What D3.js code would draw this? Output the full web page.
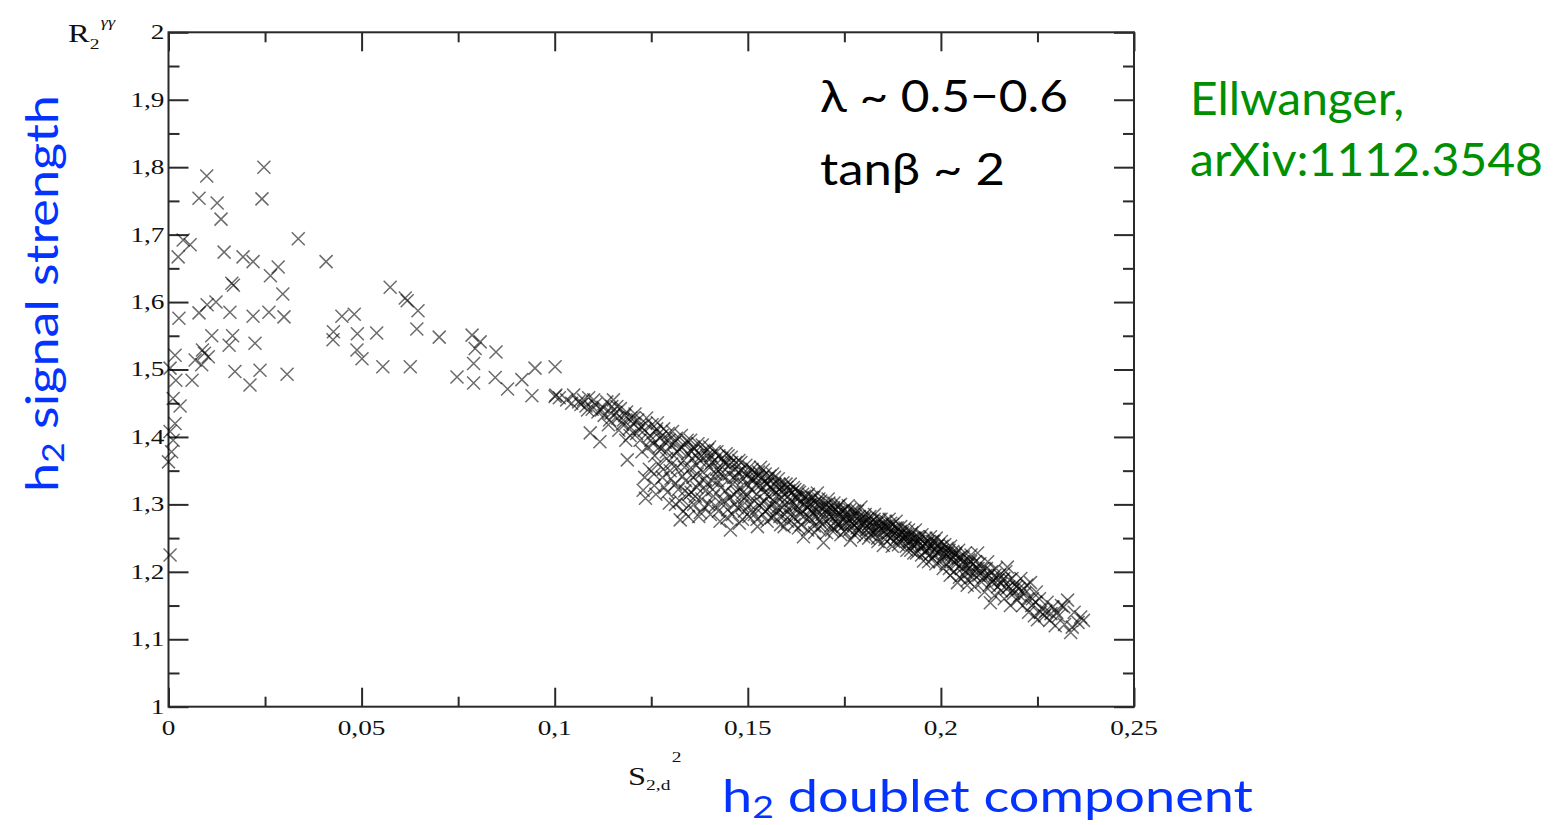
<!DOCTYPE html>
<html>
<head>
<meta charset="utf-8">
<script src="https://cdn.jsdelivr.net/npm/d3@7"></script>
<style>
  html, body { margin: 0; padding: 0; background: #fff; }
  svg { display: block; }
</style>
</head>
<body>
<svg id="chart" width="1553" height="825"></svg>
<script>
// ---------------- DATA ----------------
const xMajorTicks = [0, 0.05, 0.1, 0.15, 0.2, 0.25];
const xTickLabels = ["0", "0,05", "0,1", "0,15", "0,2", "0,25"];
const xMinorTicks = [0.025, 0.075, 0.125, 0.175, 0.225];
const yMajorTicks = [1, 1.1, 1.2, 1.3, 1.4, 1.5, 1.6, 1.7, 1.8, 1.9, 2];
const yTickLabels = ["1", "1,1", "1,2", "1,3", "1,4", "1,5", "1,6", "1,7", "1,8", "1,9", "2"];
const yMinorTicks = [1.05, 1.15, 1.25, 1.35, 1.45, 1.55, 1.65, 1.75, 1.85, 1.95];

// scattered points, small doublet component (S2,d^2 < 0.1)
const pointsScattered = [
  [0.0099,1.787],[0.0247,1.800],[0.0079,1.754],[0.0126,1.747],[0.0242,1.753],[0.0136,1.723],
  [0.0336,1.694],[0.0038,1.692],[0.0056,1.685],[0.0025,1.667],[0.0144,1.674],[0.0193,1.667],
  [0.0219,1.660],[0.0284,1.652],[0.0264,1.639],[0.0408,1.660],[0.0164,1.628],[0.0168,1.625],
  [0.0574,1.622],[0.0613,1.606],[0.0618,1.602],[0.0646,1.587],[0.0296,1.612],[0.0123,1.600],
  [0.0100,1.596],[0.0027,1.576],[0.0079,1.584],[0.0159,1.585],[0.0219,1.579],[0.0260,1.585],
  [0.0299,1.578],[0.0449,1.579],[0.0481,1.582],[0.0427,1.556],[0.0426,1.544],[0.0489,1.553],
  [0.0539,1.554],[0.0643,1.560],[0.0701,1.548],[0.0112,1.550],[0.0166,1.550],[0.0157,1.536],
  [0.0224,1.539],[0.0017,1.521],[0.0088,1.529],[0.0069,1.514],[0.0103,1.519],[0.0086,1.507],
  [0.0093,1.524],[0.0488,1.529],[0.0501,1.516],[0.0555,1.504],[0.0626,1.504],[0.0747,1.489],
  [0.0004,1.502],[0.0019,1.484],[0.0061,1.484],[0.0172,1.497],[0.0237,1.499],[0.0211,1.477],
  [0.0307,1.493],[0.0012,1.457],[0.0030,1.446],[0.0017,1.420],[0.0004,1.408],[0.0012,1.395],
  [0.0008,1.378],[0.0000,1.363],[0.0004,1.225],
  [0.0786,1.551],[0.0807,1.541],[0.0794,1.531],[0.0848,1.526],[0.0790,1.509],[0.0790,1.480],
  [0.0846,1.488],[0.0878,1.471],[0.0915,1.485],[0.0949,1.502],[0.1001,1.504],[0.0941,1.461],
  [0.1001,1.460]
];

// dense band, S2,d^2 from 0.1 to 0.237
const pointsBandA = [
  [0.1003,1.462],[0.1012,1.458],[0.1031,1.455],[0.1049,1.462],[0.1044,1.450],
  [0.1062,1.452],[0.1075,1.455],[0.1081,1.446],[0.1092,1.406],[0.1097,1.441],[0.1088,1.458],
  [0.1105,1.448],[0.1117,1.393],[0.1121,1.440],[0.1128,1.432],[0.1135,1.452],[0.1142,1.425],[0.1148,1.445],
  [0.1152,1.455],[0.1158,1.436],[0.1163,1.428],[0.1170,1.442],[0.1175,1.419],[0.1181,1.432],[0.1188,1.366],
  [0.1186,1.437],[0.1193,1.412],[0.1197,1.428],
  [0.1203,1.420],[0.1208,1.434],[0.1212,1.405],[0.1215,1.425],[0.1221,1.395],[0.1224,1.415],[0.1229,1.321],
  [0.1232,1.410],[0.1235,1.309],[0.1238,1.428],[0.1242,1.385],[0.1247,1.402],[0.1245,1.352],
  [0.1252,1.418],[0.1255,1.390],[0.1259,1.372],[0.1262,1.408],[0.1266,1.421],[0.1268,1.360],[0.1272,1.398],
  [0.1275,1.382],[0.1279,1.340],[0.1282,1.412],[0.1286,1.392],[0.1290,1.368],[0.1294,1.405],[0.1297,1.302],[0.1299,1.350],
  [0.1302,1.388],[0.1305,1.408],[0.1309,1.372],[0.1312,1.330],[0.1315,1.398],[0.1318,1.355],[0.1322,1.382],
  [0.1325,1.277],[0.1328,1.402],[0.1331,1.342],[0.1334,1.365],[0.1337,1.320],[0.1340,1.390],[0.1344,1.375],
  [0.1347,1.298],[0.1349,1.352],
  [0.1352,1.395],[0.1355,1.368],[0.1358,1.340],[0.1361,1.382],[0.1364,1.312],[0.1367,1.358],[0.1371,1.390],
  [0.1374,1.332],[0.1377,1.288],[0.1380,1.372],[0.1383,1.348],[0.1386,1.380],[0.1390,1.320],[0.1393,1.362],
  [0.1396,1.381],[0.1399,1.300],
  [0.1402,1.355],[0.1405,1.372],[0.1408,1.335],[0.1411,1.312],[0.1414,1.365],[0.1417,1.345],[0.1420,1.378],
  [0.1424,1.290],[0.1427,1.352],[0.1430,1.325],[0.1433,1.368],[0.1437,1.340],[0.1440,1.305],[0.1443,1.360],
  [0.1446,1.280],[0.1449,1.372],
  [0.1452,1.345],[0.1455,1.262],[0.1458,1.362],[0.1461,1.330],[0.1464,1.315],[0.1467,1.352],[0.1470,1.340],
  [0.1473,1.295],[0.1477,1.365],[0.1480,1.325],[0.1483,1.350],[0.1486,1.278],[0.1489,1.338],[0.1492,1.310],
  [0.1495,1.358],[0.1498,1.330]
];
const pointsBandB = [
  [0.1502,1.345],[0.1505,1.300],[0.1508,1.322],[0.1511,1.352],[0.1514,1.335],[0.1517,1.285],[0.1520,1.340],
  [0.1523,1.315],[0.1525,1.267],[0.1528,1.348],[0.1531,1.328],[0.1534,1.302],[0.1537,1.340],[0.1540,1.351],
  [0.1543,1.318],[0.1546,1.290],[0.1549,1.332],
  [0.1552,1.338],[0.1555,1.312],[0.1558,1.325],[0.1561,1.280],[0.1564,1.345],[0.1567,1.305],[0.1570,1.330],
  [0.1573,1.318],[0.1576,1.295],[0.1579,1.338],[0.1582,1.322],[0.1585,1.270],[0.1588,1.310],[0.1591,1.332],
  [0.1594,1.267],[0.1597,1.300],
  [0.1601,1.325],[0.1604,1.312],[0.1607,1.292],[0.1610,1.330],[0.1613,1.305],[0.1616,1.318],[0.1619,1.280],
  [0.1622,1.322],[0.1625,1.298],[0.1628,1.310],[0.1631,1.265],[0.1634,1.318],[0.1637,1.302],[0.1640,1.290],
  [0.1644,1.252],[0.1647,1.312],
  [0.1651,1.305],[0.1654,1.295],[0.1657,1.315],[0.1660,1.280],[0.1663,1.300],[0.1666,1.310],[0.1669,1.288],
  [0.1672,1.268],[0.1675,1.302],[0.1678,1.292],[0.1680,1.317],[0.1683,1.298],[0.1686,1.275],[0.1689,1.305],
  [0.1692,1.285],[0.1696,1.243],[0.1698,1.296],
  [0.1702,1.300],[0.1705,1.288],[0.1708,1.308],[0.1711,1.278],[0.1714,1.295],[0.1717,1.262],[0.1720,1.290],
  [0.1723,1.302],[0.1726,1.282],[0.1729,1.292],[0.1732,1.270],[0.1735,1.298],[0.1738,1.285],[0.1741,1.255],
  [0.1744,1.290],[0.1747,1.278],
  [0.1751,1.292],[0.1754,1.272],[0.1757,1.285],[0.1760,1.298],[0.1763,1.262],[0.1766,1.247],[0.1769,1.280],
  [0.1772,1.290],[0.1775,1.270],[0.1778,1.283],[0.1781,1.258],[0.1784,1.290],[0.1787,1.275],[0.1790,1.266],
  [0.1793,1.296],[0.1796,1.280]
];
const pointsBandC = [
  [0.1801,1.272],[0.1804,1.285],[0.1807,1.262],[0.1810,1.278],[0.1813,1.250],[0.1816,1.282],[0.1819,1.268],
  [0.1822,1.275],[0.1825,1.258],[0.1828,1.285],[0.1831,1.265],[0.1834,1.272],[0.1837,1.245],[0.1840,1.278],
  [0.1843,1.262],[0.1847,1.270],
  [0.1851,1.239],[0.1854,1.268],[0.1857,1.275],[0.1860,1.255],[0.1863,1.265],[0.1866,1.278],[0.1869,1.250],
  [0.1872,1.262],[0.1875,1.270],[0.1878,1.245],[0.1881,1.258],[0.1884,1.275],[0.1887,1.265],[0.1890,1.240],
  [0.1893,1.255],[0.1896,1.267],
  [0.1901,1.258],[0.1904,1.248],[0.1907,1.265],[0.1910,1.238],[0.1913,1.255],[0.1916,1.262],[0.1919,1.245],
  [0.1922,1.232],[0.1925,1.258],[0.1928,1.250],[0.1931,1.240],[0.1934,1.262],[0.1937,1.228],[0.1940,1.252],
  [0.1943,1.245],[0.1947,1.235],
  [0.1951,1.255],[0.1955,1.216],[0.1958,1.242],[0.1961,1.250],[0.1964,1.232],[0.1967,1.245],[0.1970,1.225],
  [0.1973,1.252],[0.1976,1.238],[0.1979,1.220],[0.1982,1.245],[0.1985,1.232],[0.1988,1.250],[0.1991,1.228],
  [0.1994,1.240],[0.1997,1.215],
  [0.2001,1.245],[0.2004,1.232],[0.2007,1.222],[0.2010,1.240],[0.2013,1.212],[0.2016,1.235],[0.2019,1.228],
  [0.2022,1.205],[0.2025,1.238],[0.2028,1.218],[0.2031,1.230],[0.2034,1.200],[0.2037,1.225],[0.2040,1.212],
  [0.2043,1.184],[0.2046,1.232],
  [0.2051,1.222],[0.2054,1.205],[0.2057,1.215],[0.2060,1.195],[0.2063,1.228],[0.2066,1.210],[0.2069,1.188],
  [0.2072,1.218],[0.2075,1.200],[0.2078,1.225],[0.2081,1.192],[0.2084,1.212],[0.2087,1.178],[0.2090,1.205],
  [0.2095,1.228],[0.2098,1.195],
  [0.2101,1.212],[0.2105,1.185],[0.2109,1.205],[0.2113,1.170],[0.2117,1.195],[0.2121,1.215],[0.2125,1.180],
  [0.2128,1.154],[0.2131,1.200],[0.2135,1.188],[0.2139,1.165],[0.2143,1.205],[0.2147,1.178],
  [0.2152,1.195],[0.2156,1.172],[0.2160,1.188],[0.2164,1.160],[0.2168,1.200],[0.2172,1.207],[0.2176,1.178],
  [0.2180,1.150],[0.2184,1.190],[0.2188,1.168],[0.2193,1.182],[0.2197,1.158],
  [0.2202,1.175],[0.2207,1.190],[0.2212,1.150],[0.2217,1.168],[0.2222,1.180],[0.2227,1.140],[0.2232,1.184],
  [0.2237,1.160],[0.2242,1.135],[0.2247,1.170],
  [0.2250,1.129],[0.2255,1.160],[0.2262,1.145],[0.2268,1.135],[0.2275,1.155],[0.2282,1.128],[0.2290,1.148],
  [0.2296,1.120],
  [0.2305,1.135],[0.2312,1.150],[0.2320,1.122],[0.2328,1.158],[0.2336,1.110],[0.2345,1.140],[0.2355,1.125],
  [0.2362,1.133],[0.2369,1.128]
];
const pointsBandD = [
  [0.1068,1.448],[0.1085,1.440],[0.1101,1.455],[0.1112,1.437],[0.1125,1.444],[0.1139,1.418],[0.1146,1.435],
  [0.1161,1.445],[0.1178,1.425],[0.1195,1.402],[0.1184,1.395],[0.1166,1.410],
  [0.1205,1.428],[0.1218,1.412],[0.1226,1.378],[0.1236,1.420],[0.1249,1.395],[0.1257,1.345],[0.1264,1.412],
  [0.1271,1.385],[0.1278,1.402],[0.1284,1.325],[0.1289,1.378],[0.1296,1.395],[0.1303,1.360],[0.1311,1.392],
  [0.1317,1.378],[0.1324,1.305],[0.1329,1.385],[0.1336,1.355],[0.1343,1.395],[0.1348,1.315],
  [0.1354,1.378],[0.1359,1.385],[0.1366,1.372],[0.1369,1.345],[0.1376,1.365],[0.1382,1.388],[0.1388,1.338],
  [0.1394,1.372],[0.1401,1.385],[0.1407,1.362],[0.1413,1.378],[0.1419,1.352],[0.1425,1.372],[0.1431,1.345],
  [0.1438,1.362],[0.1444,1.375],[0.1451,1.358],[0.1457,1.370],[0.1463,1.340],[0.1469,1.362],[0.1476,1.348],
  [0.1482,1.362],[0.1488,1.318],[0.1494,1.345],
  [0.1504,1.355],[0.1509,1.338],[0.1516,1.348],[0.1522,1.328],[0.1527,1.342],[0.1533,1.355],[0.1539,1.325],
  [0.1545,1.345],[0.1551,1.330],[0.1557,1.342],[0.1563,1.322],[0.1569,1.340],[0.1574,1.312],[0.1581,1.330],
  [0.1587,1.325],[0.1593,1.315],[0.1599,1.330],[0.1606,1.320],[0.1612,1.298],[0.1618,1.325],[0.1624,1.310],
  [0.1630,1.320],[0.1636,1.285],[0.1642,1.315],[0.1648,1.300],
  [0.1653,1.312],[0.1659,1.298],[0.1665,1.290],[0.1671,1.310],[0.1677,1.282],[0.1684,1.308],[0.1690,1.295],
  [0.1697,1.278],[0.1703,1.292],[0.1710,1.302],[0.1716,1.282],[0.1722,1.295],[0.1728,1.275],[0.1734,1.288],
  [0.1740,1.300],[0.1746,1.268],[0.1752,1.285],[0.1758,1.278],[0.1764,1.292],[0.1770,1.272],[0.1777,1.290],
  [0.1783,1.265],[0.1789,1.282],[0.1795,1.272],
  [0.1803,1.280],[0.1809,1.268],[0.1815,1.272],[0.1821,1.262],[0.1827,1.278],[0.1833,1.258],[0.1839,1.268],
  [0.1845,1.278],[0.1852,1.262],[0.1858,1.268],[0.1864,1.258],[0.1870,1.272],[0.1877,1.255],[0.1883,1.265],
  [0.1889,1.252],[0.1895,1.260],[0.1902,1.250],[0.1908,1.255],[0.1914,1.245],[0.1920,1.252],[0.1926,1.240],
  [0.1933,1.250],[0.1939,1.242],[0.1945,1.250],[0.1952,1.238],[0.1958,1.230],[0.1965,1.242],[0.1971,1.235],
  [0.1978,1.245],[0.1984,1.225],[0.1990,1.238],[0.1996,1.230],
  [0.2003,1.238],[0.2009,1.228],[0.2015,1.222],[0.2021,1.232],[0.2027,1.225],[0.2033,1.215],[0.2039,1.228],
  [0.2045,1.220],[0.2052,1.210],[0.2058,1.222],[0.2064,1.200],[0.2071,1.210],[0.2077,1.215],[0.2083,1.198],
  [0.2089,1.215],[0.2096,1.205],[0.2103,1.198],[0.2110,1.192],[0.2118,1.205],[0.2124,1.195],[0.2132,1.185],
  [0.2140,1.195],[0.2148,1.188],[0.2155,1.182],[0.2163,1.190],[0.2170,1.175],[0.2178,1.188],[0.2186,1.172],
  [0.2195,1.178],[0.2204,1.165],[0.2215,1.175],[0.2225,1.160],[0.2235,1.150],[0.2245,1.155],[0.2258,1.140],
  [0.2272,1.142],[0.2285,1.138],[0.2300,1.140],[0.2318,1.148],[0.2340,1.118]
];
// lower / middle part of the wide section of the band
const pointsBandE = [
  [0.1233,1.340],[0.1258,1.328],[0.1262,1.315],[0.1281,1.352],[0.1292,1.318],[0.1301,1.338],[0.1313,1.300],
  [0.1320,1.322],[0.1333,1.290],[0.1339,1.335],[0.1346,1.282],[0.1353,1.318],[0.1360,1.300],[0.1368,1.325],
  [0.1373,1.282],[0.1381,1.308],[0.1387,1.296],[0.1395,1.330],[0.1403,1.285],[0.1409,1.322],[0.1416,1.298],
  [0.1422,1.335],[0.1428,1.275],[0.1434,1.305],[0.1442,1.320],[0.1448,1.292],[0.1454,1.310],[0.1460,1.285],
  [0.1466,1.300],[0.1472,1.318],[0.1478,1.272],[0.1485,1.298],[0.1491,1.290],[0.1497,1.312],[0.1503,1.282],
  [0.1510,1.292],[0.1518,1.305],[0.1524,1.278],[0.1530,1.298],[0.1538,1.285],[0.1544,1.305],[0.1550,1.275],
  [0.1556,1.295],[0.1562,1.300],[0.1568,1.282],[0.1575,1.290],[0.1583,1.282],[0.1589,1.295],[0.1595,1.285],
  [0.1603,1.275],[0.1611,1.285],[0.1620,1.270],[0.1629,1.292],[0.1638,1.270],[0.1645,1.282],[0.1655,1.262],
  [0.1664,1.278],[0.1673,1.258],[0.1682,1.265],[0.1693,1.270],[0.1704,1.258],[0.1715,1.268],[0.1725,1.262],
  [0.1736,1.270],[0.1750,1.260],[0.1762,1.272],[0.1776,1.255],[0.1788,1.262],[0.1800,1.252],[0.1818,1.255],
  [0.1836,1.250],[0.1855,1.248],[0.1874,1.238],[0.1892,1.245],[0.1912,1.232],[0.1930,1.228],[0.1950,1.225],
  [0.1968,1.215],[0.1987,1.212],[0.2006,1.205],[0.2024,1.195],[0.2048,1.192],[0.2068,1.180]
];

const allPoints = pointsScattered.concat(pointsBandA, pointsBandB, pointsBandC, pointsBandD, pointsBandE);

// ---------------- CHART ----------------
const svg = d3.select("#chart");
const L = 168.5, R = 1134, T = 32.3, B = 706.7;
const x = d3.scaleLinear().domain([0, 0.25]).range([L, R]);
const y = d3.scaleLinear().domain([1, 2]).range([B, T]);

const axisColor = "#2a2a2a";
const serif = "'Liberation Serif', 'DejaVu Serif', serif";
const sans = "Lato, 'Open Sans', sans-serif";

function styleAxis(g) {
  g.select(".domain").remove();
  g.selectAll(".tick line").attr("stroke", axisColor).attr("stroke-width", 2);
  g.selectAll(".tick text").remove();
}
// bottom
svg.append("g").attr("transform", `translate(0,${B})`)
  .call(d3.axisBottom(x).tickValues(xMajorTicks).tickSize(-19)).call(styleAxis);
svg.append("g").attr("transform", `translate(0,${B})`)
  .call(d3.axisBottom(x).tickValues(xMinorTicks).tickSize(-10)).call(styleAxis);
// top
svg.append("g").attr("transform", `translate(0,${T})`)
  .call(d3.axisTop(x).tickValues(xMajorTicks).tickSize(-19)).call(styleAxis);
svg.append("g").attr("transform", `translate(0,${T})`)
  .call(d3.axisTop(x).tickValues(xMinorTicks).tickSize(-10)).call(styleAxis);
// left
svg.append("g").attr("transform", `translate(${L},0)`)
  .call(d3.axisLeft(y).tickValues(yMajorTicks).tickSize(-20)).call(styleAxis);
svg.append("g").attr("transform", `translate(${L},0)`)
  .call(d3.axisLeft(y).tickValues(yMinorTicks).tickSize(-11)).call(styleAxis);
// right
svg.append("g").attr("transform", `translate(${R},0)`)
  .call(d3.axisRight(y).tickValues(yMajorTicks).tickSize(-20)).call(styleAxis);
svg.append("g").attr("transform", `translate(${R},0)`)
  .call(d3.axisRight(y).tickValues(yMinorTicks).tickSize(-11)).call(styleAxis);

// frame
svg.append("rect").attr("x", L).attr("y", T).attr("width", R - L).attr("height", B - T)
  .attr("fill", "none").attr("stroke", axisColor).attr("stroke-width", 2);

// tick labels (stretched serif, like the original)
const sx = 1.3;
svg.append("g").selectAll("text").data(yMajorTicks).join("text")
  .attr("transform", d => `translate(${L - 4},${y(d)}) scale(${sx},1)`)
  .attr("text-anchor", "end").attr("dy", "0.33em")
  .attr("font-family", serif).attr("font-size", 21).attr("fill", "#111")
  .text((d, i) => yTickLabels[i]);
svg.append("g").selectAll("text").data(xMajorTicks).join("text")
  .attr("transform", d => `translate(${x(d)},${B + 28}) scale(${sx},1)`)
  .attr("text-anchor", "middle")
  .attr("font-family", serif).attr("font-size", 21).attr("fill", "#111")
  .text((d, i) => xTickLabels[i]);

// small axis titles
const rt = svg.append("text").attr("transform", "translate(68,42) scale(1.3,1)")
  .attr("font-family", serif).attr("font-size", 25).attr("fill", "#111");
rt.append("tspan").text("R");
rt.append("tspan").attr("font-size", 15).attr("dy", 7).text("2");
rt.append("tspan").attr("font-size", 14).attr("font-style", "italic").attr("dy", -22).attr("dx", 1).text("γγ");

const st = svg.append("text").attr("transform", "translate(628,785) scale(1.3,1)")
  .attr("font-family", serif).attr("font-size", 25).attr("fill", "#111");
st.append("tspan").text("S");
st.append("tspan").attr("font-size", 15).attr("dy", 5).text("2,d");
st.append("tspan").attr("font-size", 15).attr("dy", -28).attr("dx", 1).text("2");

// markers
const h = 6.5;
svg.append("g").selectAll("path").data(allPoints).join("path")
  .attr("d", d => {
    const px = x(d[0]), py = y(d[1]);
    return `M${px - h},${py - h}L${px + h},${py + h}M${px - h},${py + h}L${px + h},${py - h}`;
  })
  .attr("fill", "none").attr("stroke", "#000").attr("stroke-opacity", 0.58).attr("stroke-width", 1.5);

// annotations
const blue = "#0433ff", green = "#008f00";
const yl = svg.append("text")
  .attr("transform", "translate(58,492) rotate(-90)")
  .attr("font-family", sans).attr("font-size", 44).attr("fill", blue)
  .attr("textLength", 397).attr("lengthAdjust", "spacingAndGlyphs");
yl.append("tspan").text("h");
yl.append("tspan").attr("font-size", 30).attr("dy", 6).text("2");
yl.append("tspan").attr("dy", -6).text(" signal strength");

const xl = svg.append("text")
  .attr("x", 722).attr("y", 812)
  .attr("font-family", sans).attr("font-size", 45).attr("fill", blue)
  .attr("textLength", 531).attr("lengthAdjust", "spacingAndGlyphs");
xl.append("tspan").text("h");
xl.append("tspan").attr("font-size", 31).attr("dy", 6).text("2");
xl.append("tspan").attr("dy", -6).text(" doublet component");

svg.append("text").attr("x", 820).attr("y", 112)
  .attr("font-family", sans).attr("font-size", 44).attr("fill", "#000")
  .attr("textLength", 248).attr("lengthAdjust", "spacingAndGlyphs")
  .text("λ ~ 0.5−0.6");
svg.append("text").attr("x", 820).attr("y", 185)
  .attr("font-family", sans).attr("font-size", 44).attr("fill", "#000")
  .attr("textLength", 185).attr("lengthAdjust", "spacingAndGlyphs")
  .text("tanβ ~ 2");

svg.append("text").attr("x", 1190).attr("y", 115)
  .attr("font-family", sans).attr("font-size", 46).attr("fill", green)
  .attr("textLength", 214).attr("lengthAdjust", "spacingAndGlyphs")
  .text("Ellwanger,");
svg.append("text").attr("x", 1190).attr("y", 176)
  .attr("font-family", sans).attr("font-size", 46).attr("fill", green)
  .attr("textLength", 353).attr("lengthAdjust", "spacingAndGlyphs")
  .text("arXiv:1112.3548");
</script>
</body>
</html>
